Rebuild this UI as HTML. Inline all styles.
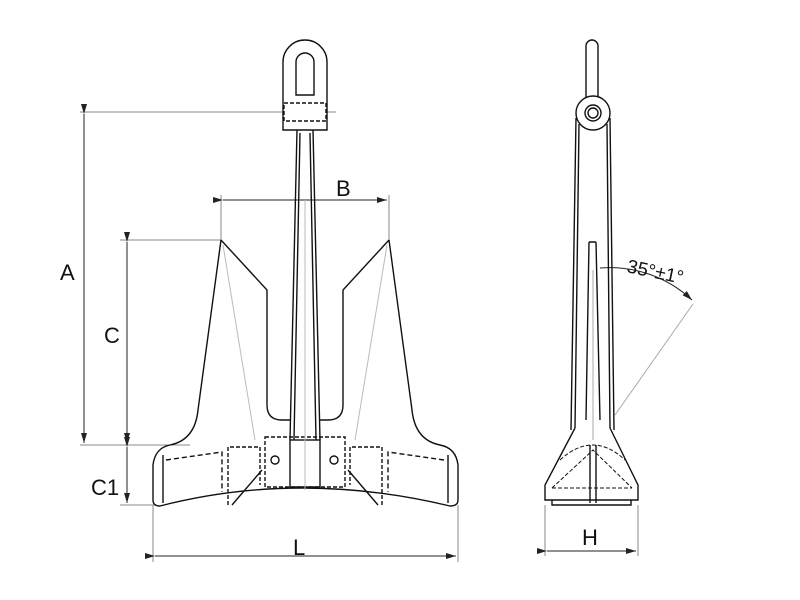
<!DOCTYPE html>
<html><head><meta charset="utf-8"><style>
body{margin:0;background:#fff;}
svg{display:block;font-family:"Liberation Sans",sans-serif;}
</style></head><body>
<svg width="800" height="600" viewBox="0 0 800 600" xmlns="http://www.w3.org/2000/svg">
<defs>
<marker id="ar" markerWidth="10" markerHeight="6" refX="10" refY="3" orient="auto"><path d="M0,0 L10,3 L0,6 z" fill="#222"/></marker>
</defs>
<g fill="none" stroke="#888" stroke-width="1">
<line x1="80" y1="112" x2="336" y2="112"/>
<line x1="120" y1="240" x2="221" y2="240"/>
<line x1="80" y1="445" x2="190" y2="445"/>
<line x1="120" y1="505" x2="155" y2="505"/>
<line x1="153" y1="505" x2="153" y2="562"/>
<line x1="458" y1="505" x2="458" y2="562"/>
<line x1="221" y1="195" x2="221" y2="240"/>
<line x1="389" y1="195" x2="389" y2="240"/>
<line x1="545" y1="505" x2="545" y2="556"/>
<line x1="638" y1="505" x2="638" y2="556"/>
<line x1="693" y1="304" x2="615" y2="415" stroke="#aaa"/>
</g>
<g stroke="#222" stroke-width="1" fill="none">
<line x1="84" y1="114" x2="84" y2="443" marker-start="url(#ar)" marker-end="url(#ar)"/>
<line x1="127" y1="242" x2="127" y2="443" marker-start="url(#ar)" marker-end="url(#ar)"/>
<line x1="127" y1="447" x2="127" y2="503" marker-start="url(#ar)" marker-end="url(#ar)"/>
<line x1="223" y1="200" x2="387" y2="200" marker-start="url(#ar)" marker-end="url(#ar)"/>
<line x1="155" y1="556" x2="456" y2="556" marker-start="url(#ar)" marker-end="url(#ar)"/>
<line x1="547" y1="551" x2="636" y2="551" marker-start="url(#ar)" marker-end="url(#ar)"/>
<path d="M600,268 A120,120 0 0 1 692,300" marker-end="url(#ar)"/>
</g>
<g font-size="22" fill="#111">
<text x="60" y="280">A</text>
<text x="104" y="343">C</text>
<text x="336" y="196">B</text>
<text x="91" y="495">C1</text>
<text x="293" y="555">L</text>
<text x="582" y="545">H</text>
<text x="626" y="272" font-size="19" transform="rotate(12 626 272)">35°±1°</text>
</g>
<g stroke="#111" stroke-width="1.4" fill="none">
<path d="M283,130 V62 A22,22 0 0 1 327,62 V130 Z" fill="#fff"/>
<path d="M296,95 V62 A9,9 0 0 1 314,62 V95 Z"/>
<rect x="284" y="103" width="42" height="18" stroke-dasharray="4,2"/>
<path d="M297,130 L290,440 M313,130 L320,440 M300,133 L294,440 M310,133 L316,440"/>
<path d="M221,240 L267,290 V405 Q267,420 282,420 H290"/>
<path d="M389,240 L343,290 V405 Q343,420 328,420 H320"/>
<path d="M221,240 L198,410 Q195,440 170,445 Q155,448 153,465 V500 Q153,506 160,506 Q300,470 450,506 Q458,506 458,500 V465 Q456,448 440,445 Q415,440 412,410 L389,240"/>
<path d="M163,455 V503 M448,455 V503"/>
<path d="M166,460 L222,452 V492 M444,460 L388,452 V492" stroke-dasharray="5,3"/>
<path d="M230,447 H260 V485 M380,447 H350 V485 M228,447 V505 M382,447 V505" stroke-dasharray="4,2"/>
<path d="M262,470 L232,505 M348,470 L378,505"/>
<rect x="265" y="437" width="80" height="50" stroke-dasharray="4,2"/>
<rect x="290" y="440" width="30" height="47"/>
<circle cx="275" cy="460" r="4"/><circle cx="334" cy="460" r="4"/>
</g>
<g stroke="#bbb" stroke-width="1" fill="none">
<path d="M223,245 L255,440 M387,245 L355,440 M305,200 V490"/>
</g>
<g stroke="#111" stroke-width="1.4" fill="none">
<path d="M586,98 V46 A6,6 0 0 1 598,46 V98"/>
<path d="M576,118 L571,430 M610,118 L614,430 M579,124 L575,428 M607,124 L610,428"/>
<circle cx="593" cy="113" r="17" fill="#fff"/>
<circle cx="593" cy="113" r="8"/><circle cx="593" cy="113" r="5"/>
<path d="M589,242 L586,420 M596,242 L600,420 M589,242 H596"/>
<path d="M575,428 L545,485 V500 H638 V485 L610,428" fill="#fff"/>
<path d="M552,500 V505 H631 V500 M590,445 V503 M596,445 V503"/>
<path d="M560,460 Q593,430 625,460 M552,488 L593,450 L632,488 M552,488 H632" stroke-dasharray="4,2" stroke-width="1"/>
</g>
<line x1="593" y1="270" x2="593" y2="440" stroke="#aaa"/>
</svg>
</body></html>
